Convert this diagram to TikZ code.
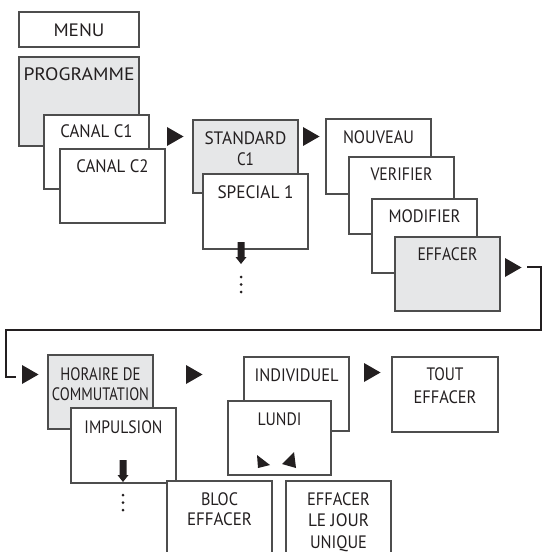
\documentclass[tikz,border=0pt]{standalone}
\usepackage{graphicx}
\usepackage{fontspec}
\setmainfont{PT Sans}
\definecolor{boxline}{HTML}{4D4D4D}
\definecolor{boxfill}{HTML}{E6E7E8}
\definecolor{ink}{HTML}{231F20}
\newcommand\fitw[2]{\resizebox{#1bp}{\height}{#2}}
\newcommand\myrighttri[2]{\fill[ink] (#1,#2) -- ++(16.5,9.5) -- ++(-16.5,9.5) -- cycle;}
\newcommand\mydotcol[2]{\foreach \dy in {0,7.5,15} \fill[ink] (#1,#2+\dy) circle (1.5);}
\newcommand\mydownarrow[2]{\fill[ink] (#1-3.5,#2) rectangle (#1+3.5,#2+15) (#1-5.5,#2+15) -- (#1+5.5,#2+15) -- (#1,#2+22) -- cycle;}
\tikzset{
  box/.style={draw=boxline, line width=1.1bp, fill=white, rectangle, inner sep=0pt, outer sep=0pt, anchor=north west},
  graybox/.style={box, fill=boxfill},
  lbl/.style={anchor=north, inner sep=0pt, align=center, text=ink, font=\fontsize{18bp}{21.5bp}\selectfont},
  loopline/.style={line width=2.2bp, draw=ink}
}
\begin{document}
\begin{tikzpicture}[x=1bp,y=-1bp]
\useasboundingbox (0,0) rectangle (542,552);
\clip (0,0) rectangle (542,552);
% row 1
\node[box, minimum width=120bp, minimum height=35bp] (menu) at (19,12) {};
\node[lbl, anchor=center] (menut) at ([yshift=-0.5bp]menu.center) {\fitw{51}{MENU}};
\node[graybox, minimum width=120bp, minimum height=89bp] (prog) at (19,57) {};
\node[lbl] (progt) at ([yshift=-10bp]prog.north) {\fitw{111}{PROGRAMME}};
\node[box, minimum width=105bp, minimum height=74bp] (c1) at (44,115) {};
\node[lbl] (c1t) at ([yshift=-9bp]c1.north) {\fitw{72}{CANAL C1}};
\node[box, minimum width=105bp, minimum height=74bp] (c2) at (60,149) {};
\node[lbl] (c2t) at ([yshift=-10bp]c2.north) {\fitw{72}{CANAL C2}};
\myrighttri{167}{127}
\node[graybox, minimum width=105bp, minimum height=73bp] (std) at (193,120) {};
\node[lbl] (stdt) at ([yshift=-11bp]std.north) {\fitw{82}{STANDARD}\\\fitw{17}{C1}};
\node[box, minimum width=105bp, minimum height=75bp] (spec) at (203,174) {};
\node[lbl] (spect) at ([yshift=-11bp]spec.north) {\fitw{76}{SPECIAL 1}};
\mydownarrow{241}{242}
\mydotcol{241}{277}
\myrighttri{303}{127}
\node[box, minimum width=105bp, minimum height=75bp] (nouv) at (326,119) {};
\node[lbl] (nouvt) at ([yshift=-11bp]nouv.north) {\fitw{71}{NOUVEAU}};
\node[box, minimum width=105bp, minimum height=77bp] (verif) at (349,157) {};
\node[lbl] (veriftt) at ([yshift=-11bp]verif.north) {\fitw{62}{VERIFIER}};
\node[box, minimum width=105bp, minimum height=74bp] (modif) at (372,199) {};
\node[lbl] (modift) at ([yshift=-10bp]modif.north) {\fitw{72}{MODIFIER}};
\node[graybox, minimum width=105bp, minimum height=74bp] (eff) at (395,237) {};
\node[lbl] (efft) at ([yshift=-10bp]eff.north) {\fitw{60}{EFFACER}};
\myrighttri{505}{258}
% connector loop
\coordinate (loopstart) at (527,267);
\coordinate (loopend) at (16,377);
\draw[loopline] (loopstart) -- (541,267) -- (541,330) -- (6,330) -- (6,377) -- (loopend);
\myrighttri{22}{365}
% row 2
\node[graybox, minimum width=105bp, minimum height=74bp] (hor) at (48,355) {};
\node[lbl, font=\fontsize{18bp}{20bp}\selectfont] (hort) at ([yshift=-12bp]hor.north) {\fitw{80}{HORAIRE DE}\\\fitw{97}{COMMUTATION}};
\node[box, minimum width=105bp, minimum height=75bp] (imp) at (71,408) {};
\node[lbl] (impt) at ([yshift=-12bp]imp.north) {\fitw{78}{IMPULSION}};
\mydownarrow{123}{460}
\mydotcol{123}{495}
\myrighttri{186}{365}
\node[box, minimum width=105bp, minimum height=74bp] (indiv) at (244,357) {};
\node[lbl] (indivt) at ([yshift=-11bp]indiv.north) {\fitw{84}{INDIVIDUEL}};
\node[box, minimum width=103bp, minimum height=74bp] (lundi) at (228,401) {};
\node[lbl] (lundit) at ([yshift=-11bp]lundi.north) {\fitw{44}{LUNDI}};
\fill[ink] (257,455) -- (258,468) -- (270,465) -- cycle;
\fill[ink] (294,452) -- (282,464) -- (296,468) -- cycle;
\myrighttri{364}{363}
\node[box, minimum width=106bp, minimum height=75bp] (tout) at (392,357) {};
\node[lbl, font=\fontsize{18bp}{23bp}\selectfont] (toutt) at ([yshift=-10bp]tout.north) {\fitw{37}{TOUT}\\\fitw{63}{EFFACER}};
\node[box, minimum width=105bp, minimum height=90bp] (bloc) at (167,481) {};
\node[lbl, font=\fontsize{18bp}{20bp}\selectfont] (bloct) at ([yshift=-11bp]bloc.north) {\fitw{37}{BLOC}\\\fitw{65}{EFFACER}};
\node[box, minimum width=105bp, minimum height=90bp] (jour) at (286,481) {};
\node[lbl] (jourt) at ([yshift=-11bp]jour.north) {\fitw{63}{EFFACER}\\\fitw{61}{LE JOUR}\\\fitw{57}{UNIQUE}};
\end{tikzpicture}
\end{document}
